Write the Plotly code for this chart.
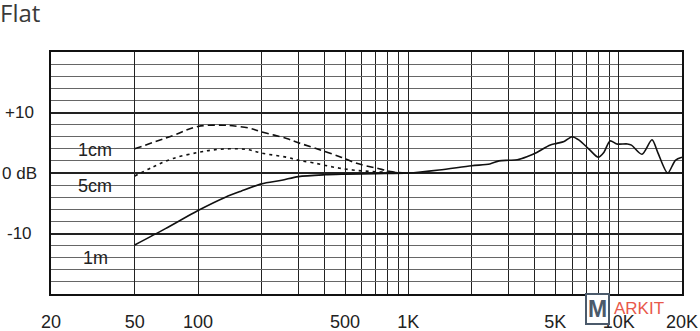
import math
import plotly.graph_objects as go

# ---- data ----
freq_1m = [50, 70, 100, 135, 160, 200, 250, 300, 400, 500, 700, 1000, 1400, 2000,
           2440, 2700, 3000, 3300, 3660, 4080, 4700, 5080, 5500, 6000, 6500, 7200,
           8000, 8500, 9100, 9800, 11000, 11500, 12900, 14400, 15300, 17100, 18600, 20000]
db_1m = [-11.9, -9.2, -6.2, -4.0, -3.0, -1.8, -1.2, -0.6, -0.3, -0.2, -0.1, 0.0, 0.5, 1.2,
         1.5, 2.0, 2.1, 2.2, 2.7, 3.4, 4.6, 4.9, 5.2, 6.0, 5.4, 4.0,
         2.6, 3.4, 5.3, 4.8, 4.8, 4.6, 3.1, 5.5, 3.5, 0.0, 2.1, 2.6]

freq_1cm = [50, 76, 100, 131, 146, 176, 200, 264, 300, 367, 472, 568, 707, 843, 1000]
db_1cm = [4.0, 6.2, 7.7, 7.9, 7.8, 7.4, 6.8, 5.7, 5.0, 4.0, 2.7, 1.6, 0.8, 0.2, 0.0]

freq_5cm = [50, 61, 76, 100, 117, 141, 170, 200, 264, 300, 351, 437, 543, 707, 1000]
db_5cm = [-0.5, 1.0, 2.4, 3.4, 3.8, 4.0, 3.9, 3.3, 2.6, 2.1, 1.7, 1.0, 0.5, 0.2, 0.0]

x_tick_vals = [20, 50, 100, 500, 1000, 5000, 10000, 20000]
x_tick_text = ["20", "50", "100", "500", "1K", "5K", "10K", "20K"]
x_minor_vals = [200, 300, 400, 600, 700, 800, 900, 2000, 3000, 4000, 6000, 7000, 8000, 9000]
y_label_vals = [10, 0, -10]
y_label_text = ["+10", "0 dB", "-10"]

curve_labels = ["1cm", "5cm", "1m"]
curve_label_db = [3.8, -2.2, -14.0]
curve_label_freq = 32.4

FONT = "Liberation Sans, Arial, sans-serif"

fig = go.Figure()
fig.add_trace(go.Scatter(x=freq_1cm, y=db_1cm, mode="lines",
                         line=dict(color="#111", width=1.6, dash="7px,4px", shape="spline", smoothing=1)))
fig.add_trace(go.Scatter(x=freq_5cm, y=db_5cm, mode="lines",
                         line=dict(color="#111", width=1.6, dash="3px,4px", shape="spline", smoothing=1)))
fig.add_trace(go.Scatter(x=freq_1m, y=db_1m, mode="lines",
                         line=dict(color="#111", width=1.6, shape="spline", smoothing=0.8)))

annotations = []
for t, v in zip(y_label_text, y_label_vals):
    annotations.append(dict(text=t, x=(20 - 51.5) / 630.5, xref="paper", y=v, yref="y",
                            xanchor="center", yanchor="middle", showarrow=False,
                            font=dict(size=17, color="#222", family=FONT)))
for t, v in zip(curve_labels, curve_label_db):
    annotations.append(dict(text=t, x=math.log10(curve_label_freq), xref="x", y=v, yref="y",
                            xanchor="center", yanchor="middle", showarrow=False,
                            font=dict(size=18, color="#222", family=FONT)))
# watermark
annotations.append(dict(text="<b>M</b>", x=(598 - 51.5) / 630.5, xref="paper",
                        y=(294 - 309) / 242, yref="paper", xanchor="center", yanchor="middle",
                        showarrow=False, bordercolor="#4b5a6b", borderwidth=2, borderpad=1,
                        bgcolor="white", font=dict(size=23, color="#4b5a6b", family=FONT)))
annotations.append(dict(text="ARKIT", x=(612 - 51.5) / 630.5, xref="paper",
                        y=(294 - 308.5) / 242, yref="paper", xanchor="left", yanchor="middle",
                        showarrow=False, font=dict(size=17, color="#e8584a", family=FONT)))

fig.update_layout(
    width=700, height=331,
    margin=dict(l=51, r=18, t=52, b=37),
    paper_bgcolor="white", plot_bgcolor="white",
    showlegend=False,
    title=dict(text="Flat", x=0.0, xref="container", xanchor="left",
               y=1 - 14 / 331, yref="container", yanchor="middle", automargin=False,
               font=dict(size=24, color="#3a3a3a", family="Open Sans, sans-serif")),
    annotations=annotations,
    xaxis=dict(type="log", range=[math.log10(20), math.log10(20000)], automargin=False,
               tickvals=x_tick_vals, ticktext=x_tick_text, ticks="",
               ticklabelstandoff=11,
               tickfont=dict(size=18, color="#222", family=FONT),
               showgrid=True, gridcolor="#222", gridwidth=1.3,
               minor=dict(tickvals=x_minor_vals, showgrid=True, gridcolor="#222", gridwidth=1.3, ticks=""),
               showline=True, linecolor="#111", linewidth=1.5, mirror=True, zeroline=False),
    yaxis=dict(range=[-20, 20], tickvals=y_label_vals, showticklabels=False, ticks="",
               automargin=False,
               showgrid=True, gridcolor="#222", gridwidth=1.5,
               minor=dict(dtick=2, tick0=0, showgrid=True, gridcolor="#666", gridwidth=1.2, ticks=""),
               showline=True, linecolor="#111", linewidth=1.5, mirror=True, zeroline=False),
)

fig.write_html("out.html", config={"displayModeBar": False},
               post_script="document.body.style.margin='0';document.body.style.overflow='hidden';")
